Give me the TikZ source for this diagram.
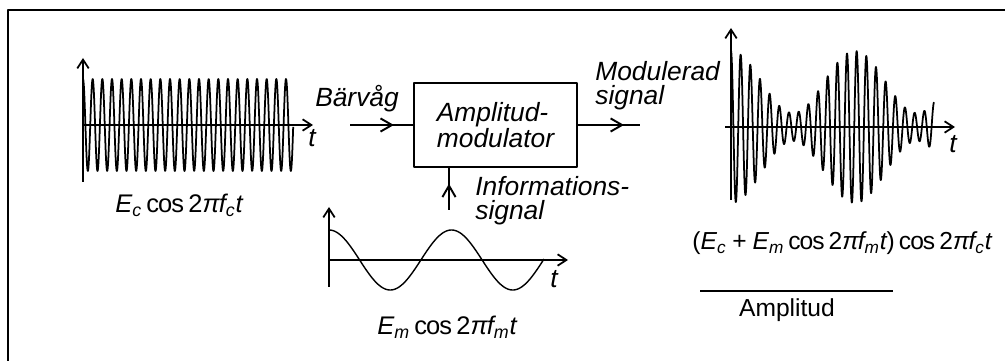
\documentclass[tikz,border=0pt]{standalone}
\usepackage{fontspec}
\setmainfont{Liberation Sans}
\usetikzlibrary{arrows.meta,decorations.markings}
\begin{document}
\begin{tikzpicture}[x=0.02cm,y=-0.02cm,line join=round,
	taxis/.style={line width=1pt,-{Straight Barb[length=5pt,width=6.5pt]}},
	wave/.style={line width=1pt},
	lbl/.style={font=\fontsize{15}{14}\selectfont\itshape,inner sep=0pt},
	formula/.style={font=\fontsize{14.5}{16}\selectfont\addfontfeature{LetterSpace=-3.5},inner sep=0pt,anchor=base},
	sigflow/.style={line width=1.1pt,decoration={markings,
			mark=at position #1 with {\arrow{Straight Barb[length=6.5pt,width=7.5pt]}}},
		postaction={decorate}}]
	\useasboundingbox (0,0) rectangle (1005,361);
	
	\pgfmathsetmacro{\wc}{360/9.667}% carrier, degrees per px
	\pgfmathsetmacro{\wm}{360/124}% envelope
	\pgfmathsetmacro{\wi}{360/122.5}% information signal
	
	% frame
	\draw[line width=1.1pt] (8,361) -- (8,10) -- (1005,10);
	
	% carrier
	\draw[taxis] (83,182) -- (83,58);
	\draw[taxis] (82,125) -- (313,125);
	\draw[wave] plot[domain=0:210.2,samples=900] ({83+\x},{125-46*cos(\wc*\x)});
	\node[lbl,anchor=base] (tc) at (312,147) {t};
	\node[formula] (fc) at (179,213) {\textit{E\textsubscript{c}}\,cos\,2\textit{πf\textsubscript{c}t}};
	
	% information signal
	\draw[taxis] (329,287) -- (329,207);
	\draw[taxis] (329,260) -- (568,260);
	\draw[line width=.8pt] plot[domain=0:215,samples=200] ({329+\x},{260-30*cos(\wi*\x)});
	\node[lbl,anchor=base] (ti) at (554,288) {t};
	\node[formula] (fi) at (447,335) {\textit{E\textsubscript{m}}\,cos\,2\textit{πf\textsubscript{m}t}};
	
	% modulator
	\node[draw,line width=1.5pt,minimum width=3.26cm,minimum height=1.68cm,align=left,
	lbl,font=\fontsize{15}{14.7}\selectfont\itshape] (amod) at (495.5,125) {Amplitud-\\modulator};
	\coordinate (bin) at (350,125);
	\coordinate (bout) at (640,125);
	\coordinate (binfo) at (449,210);
	\draw[sigflow=0.7] (bin) -- (amod.west);
	\draw[sigflow=0.74] (amod.east) -- (bout);
	\draw[sigflow=0.63] (binfo) -- (binfo |- amod.south);
	\node[lbl,anchor=base] (barv) at (357,107) {Bärvåg};
	\node[lbl,anchor=base west,align=left] (modsig) at (595,105) {Modulerad\\signal};
	\node[lbl,anchor=base west,align=left] (infsig) at (475,220) {Informations-\\signal};
	
	% modulated signal
	\draw[taxis] (731,200) -- (731,28);
	\draw[taxis] (725,127) -- (955,127);
	\draw[wave] plot[domain=0:203,samples=1000] ({731+\x},{127-(45+31*cos(\wm*\x))*cos(\wc*\x)});
	\node[lbl,anchor=base] (tm) at (953,153) {t};
	\node[formula,font=\fontsize{14}{16}\selectfont\addfontfeature{LetterSpace=-4}] (fam) at (842,250) {(\textit{E\textsubscript{c}} + \textit{E\textsubscript{m}}\,cos\,2\textit{πf\textsubscript{m}t})\,cos\,2\textit{πf\textsubscript{c}t}};
	\draw[line width=.6pt] (700,291) -- (893,291);
	\node[formula,font=\fontsize{14}{16}\selectfont] (ampl) at (787,317) {Amplitud};
\end{tikzpicture}
\end{document}
